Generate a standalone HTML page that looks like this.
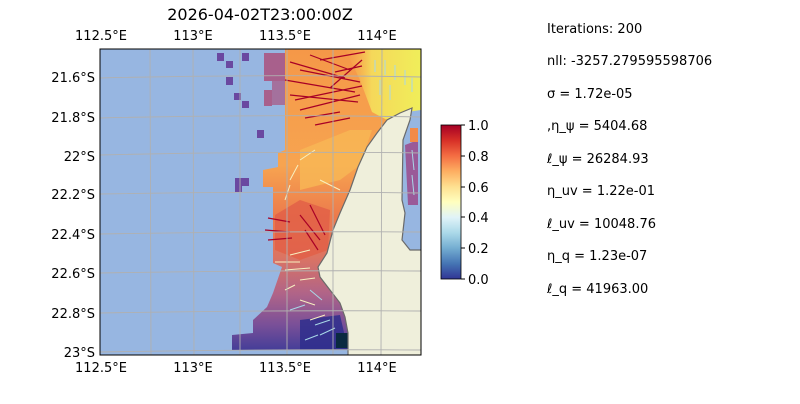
<!DOCTYPE html>
<html><head><meta charset="utf-8"><style>
body{margin:0;background:#fff;width:800px;height:400px;overflow:hidden;font-family:"DejaVu Sans","Liberation Sans",sans-serif}
</style></head><body>
<svg width="800" height="400" xmlns="http://www.w3.org/2000/svg" font-family="DejaVu Sans, Liberation Sans, sans-serif">
<defs>
<linearGradient id="band" x1="0" y1="49" x2="0" y2="355" gradientUnits="userSpaceOnUse">
<stop offset="0" stop-color="#f59848"/>
<stop offset="0.38" stop-color="#f7a450"/>
<stop offset="0.55" stop-color="#ec7a4c"/>
<stop offset="0.68" stop-color="#dc7462"/>
<stop offset="0.8" stop-color="#b06488"/>
<stop offset="0.9" stop-color="#7a5098"/>
<stop offset="1" stop-color="#3a3a98"/>
</linearGradient>
<linearGradient id="yel" x1="0" y1="0" x2="1" y2="0">
<stop offset="0" stop-color="#f7b050" stop-opacity="0"/>
<stop offset="0.35" stop-color="#f5d85a"/>
<stop offset="1" stop-color="#f0ee5a"/>
</linearGradient>
<linearGradient id="cb" x1="0" y1="1" x2="0" y2="0">
<stop offset="0" stop-color="#313695"/>
<stop offset="0.1" stop-color="#4575b4"/>
<stop offset="0.2" stop-color="#74add1"/>
<stop offset="0.3" stop-color="#abd9e9"/>
<stop offset="0.4" stop-color="#e0f3f8"/>
<stop offset="0.5" stop-color="#ffffbf"/>
<stop offset="0.6" stop-color="#fee090"/>
<stop offset="0.7" stop-color="#fdae61"/>
<stop offset="0.8" stop-color="#f46d43"/>
<stop offset="0.9" stop-color="#d73027"/>
<stop offset="1" stop-color="#a50026"/>
</linearGradient>
<clipPath id="ax"><rect x="100" y="49" width="321" height="306"/></clipPath>
</defs>
<text x="260" y="20" font-size="16" text-anchor="middle">2026-04-02T23:00:00Z</text>
<g clip-path="url(#ax)">
<rect x="100" y="49" width="321" height="306" fill="#97b6e1"/>
<polygon fill="url(#band)" points="285,49 421,49 421,110 412,108 400,113 387,120 377,133 367,147 358,167 350,190 340,213 333,230 327,253 318,267 320,277 330,290 340,303 345,317 348,333 348,350 232,350 232,335 253,333 253,320 267,307 273,293 282,267 273,263 273,187 263,187 263,170 278,167 278,153 285,150"/>
<polygon fill="url(#yel)" points="345,49 421,49 421,110 400,113 387,120 372,112 360,80"/>
<polygon fill="#f8b855" opacity="0.8" points="300,150 350,130 372,130 360,165 340,180 300,190"/>
<polygon fill="#e26048" opacity="0.85" points="275,215 300,200 330,210 328,250 300,260 275,250"/>
<polygon fill="#2e2e8c" opacity="0.85" points="300,320 340,315 348,350 300,350"/>
<rect x="336" y="333" width="12" height="15" fill="#0a2a40"/>
<polygon fill="#9a5a98" points="405,145 418,140 418,205 408,205"/>
<rect x="410" y="128" width="8" height="14" fill="#f38a48"/>
<g fill="#6a48a0">
<rect x="217" y="53" width="7" height="8"/><rect x="226" y="61" width="7" height="7"/><rect x="242" y="53" width="7" height="8"/>
<rect x="226" y="77" width="7" height="8"/><rect x="234" y="93" width="7" height="7"/><rect x="242" y="101" width="7" height="7"/>
<rect x="257" y="130" width="7" height="8"/><rect x="235" y="178" width="14" height="8"/><rect x="235" y="186" width="7" height="6"/>
</g>
<g fill="#a8608c">
<rect x="264" y="53" width="21" height="28"/><rect x="264" y="90" width="8" height="16"/><rect x="272" y="60" width="13" height="45" opacity="0.8"/>
</g>
<g stroke="#a80026" stroke-width="1.2">
<line x1="290" y1="62" x2="345" y2="78"/><line x1="300" y1="70" x2="360" y2="82"/><line x1="285" y1="80" x2="355" y2="92"/>
<line x1="295" y1="100" x2="362" y2="86"/><line x1="290" y1="95" x2="358" y2="102"/><line x1="300" y1="110" x2="360" y2="95"/>
<line x1="310" y1="55" x2="350" y2="70"/><line x1="320" y1="60" x2="365" y2="52"/><line x1="330" y1="88" x2="362" y2="60"/>
<line x1="305" y1="118" x2="340" y2="112"/><line x1="315" y1="125" x2="350" y2="118"/><line x1="335" y1="72" x2="362" y2="66"/>
<line x1="300" y1="215" x2="320" y2="240"/><line x1="310" y1="205" x2="325" y2="235"/><line x1="268" y1="218" x2="290" y2="222"/>
<line x1="265" y1="230" x2="290" y2="232"/><line x1="268" y1="240" x2="292" y2="238"/><line x1="305" y1="230" x2="318" y2="250"/>
</g>
<g stroke="#f8f0c0" stroke-width="1">
<line x1="300" y1="160" x2="315" y2="150"/><line x1="290" y1="180" x2="298" y2="165"/><line x1="285" y1="200" x2="290" y2="185"/>
<line x1="320" y1="180" x2="340" y2="190"/><line x1="290" y1="255" x2="310" y2="250"/><line x1="275" y1="262" x2="300" y2="262"/>
<line x1="285" y1="270" x2="310" y2="268"/><line x1="300" y1="280" x2="315" y2="278"/><line x1="300" y1="300" x2="315" y2="305"/>
<line x1="310" y1="320" x2="325" y2="315"/><line x1="285" y1="290" x2="295" y2="285"/>
</g>
<g stroke="#a8d8e8" stroke-width="1">
<line x1="375" y1="60" x2="375" y2="72"/><line x1="385" y1="60" x2="385" y2="75"/><line x1="395" y1="65" x2="395" y2="80"/>
<line x1="405" y1="70" x2="405" y2="85"/><line x1="412" y1="78" x2="412" y2="92"/><line x1="380" y1="80" x2="380" y2="95"/>
<line x1="390" y1="85" x2="390" y2="100"/><line x1="412" y1="150" x2="414" y2="170"/><line x1="412" y1="175" x2="414" y2="195"/>
<line x1="315" y1="325" x2="330" y2="320"/><line x1="320" y1="335" x2="335" y2="328"/><line x1="305" y1="340" x2="318" y2="335"/>
<line x1="290" y1="310" x2="305" y2="305"/><line x1="310" y1="290" x2="322" y2="300"/>
</g>
<path fill="#efefdb" stroke="#6a6a6a" stroke-width="1.2" d="M412,108 L400,113 387,120 377,133 367,147 358,167 350,190 340,213 333,230 327,253 318,267 320,277 330,290 340,303 345,317 348,333 348,356 422,356 422,250 410,250 402,240 405,213 402,200 403,140 410,120 Z"/>
<g stroke="#b0b0b0" stroke-width="0.9" fill="none">
<line x1="150" y1="49" x2="151" y2="355"/><line x1="193" y1="49" x2="194" y2="355"/><line x1="240" y1="49" x2="240" y2="355"/>
<line x1="287" y1="49" x2="287" y2="355"/><line x1="333" y1="49" x2="333" y2="355"/><line x1="382" y1="49" x2="381" y2="355"/>
<path d="M100,78 Q260,74 421,77"/><path d="M100,118 Q260,114 421,117"/><path d="M100,155 Q260,151 421,153"/>
<path d="M100,194 Q260,191 421,193"/><path d="M100,234 Q260,231 421,232"/><path d="M100,273 Q260,270 421,271"/>
<path d="M100,313 Q260,310 421,311"/><path d="M100,352 Q260,349 421,350"/>
</g>
</g>
<rect x="100" y="49" width="321" height="306" fill="none" stroke="#000" stroke-width="1"/>
<g font-size="13" text-anchor="middle">
<text x="101" y="40">112.5°E</text><text x="193" y="40">113°E</text><text x="285" y="40">113.5°E</text><text x="377" y="40">114°E</text>
<text x="101" y="372">112.5°E</text><text x="193" y="372">113°E</text><text x="285" y="372">113.5°E</text><text x="377" y="372">114°E</text>
</g>
<g font-size="13" text-anchor="end">
<text x="95" y="82">21.6°S</text><text x="95" y="122">21.8°S</text><text x="95" y="161">22°S</text><text x="95" y="199">22.2°S</text>
<text x="95" y="239">22.4°S</text><text x="95" y="278">22.6°S</text><text x="95" y="318">22.8°S</text><text x="95" y="357">23°S</text>
</g>
<rect x="441" y="125" width="20" height="154" fill="url(#cb)" stroke="#000" stroke-width="0.8"/>
<g font-size="13">
<g stroke="#000"><line x1="461" y1="125" x2="465" y2="125"/><line x1="461" y1="156" x2="465" y2="156"/><line x1="461" y1="187" x2="465" y2="187"/><line x1="461" y1="217" x2="465" y2="217"/><line x1="461" y1="248" x2="465" y2="248"/><line x1="461" y1="279" x2="465" y2="279"/></g>
<text x="468" y="130">1.0</text><text x="468" y="161">0.8</text><text x="468" y="192">0.6</text><text x="468" y="222">0.4</text><text x="468" y="253">0.2</text><text x="468" y="284">0.0</text>
</g>
<g font-size="13">
<text x="547" y="33">Iterations: 200</text>
<text x="547" y="65">nll: -3257.279595598706</text>
<text x="547" y="98">σ = 1.72e-05</text>
<text x="547" y="130">,η_ψ = 5404.68</text>
<text x="547" y="163">ℓ_ψ = 26284.93</text>
<text x="547" y="195">η_uv = 1.22e-01</text>
<text x="547" y="228">ℓ_uv = 10048.76</text>
<text x="547" y="260">η_q = 1.23e-07</text>
<text x="547" y="293">ℓ_q = 41963.00</text>
</g>
</svg>
</body></html>
